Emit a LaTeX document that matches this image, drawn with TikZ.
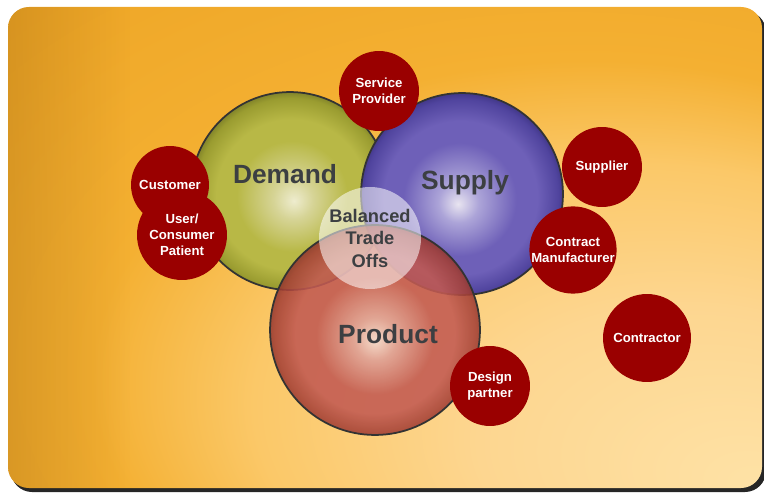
\documentclass[tikz,border=0pt]{standalone}
\usepackage{fontspec}
\setmainfont{Liberation Sans}
\usetikzlibrary{fadings}

\definecolor{bubblered}{HTML}{9A0000}
\definecolor{labelgray}{HTML}{3C3F42}
% background
\definecolor{bgA}{HTML}{FEE2A6}
\definecolor{bgB}{HTML}{FDD690}
\definecolor{bgC}{HTML}{FBC868}
\definecolor{bgD}{HTML}{F4B032}
\definecolor{bgE}{HTML}{EEA626}
\definecolor{bgF}{HTML}{E29A20}
\definecolor{bgG}{HTML}{CE8C1C}
\definecolor{bgedge}{HTML}{A06810}
% spheres
\definecolor{demandA}{HTML}{EEECCE}
\definecolor{demandB}{HTML}{D6D496}
\definecolor{demandC}{HTML}{B8B846}
\definecolor{demandD}{HTML}{9A9C30}
\definecolor{demandE}{HTML}{5E6020}
\definecolor{supplyA}{HTML}{E8E4F0}
\definecolor{supplyB}{HTML}{ACA4D8}
\definecolor{supplyC}{HTML}{6E60B8}
\definecolor{supplyD}{HTML}{50449E}
\definecolor{supplyE}{HTML}{2C2468}
\definecolor{productA}{HTML}{F4DCD4}
\definecolor{productB}{HTML}{DEA098}
\definecolor{productC}{HTML}{C25A52}
\definecolor{productD}{HTML}{A44036}
\definecolor{productE}{HTML}{702822}

\pgfdeclareradialshading{bgshade}{\pgfpoint{25bp}{-25bp}}{color(0bp)=(bgA); color(14bp)=(bgB); color(25bp)=(bgC); color(33bp)=(bgD); color(48bp)=(bgE); color(60bp)=(bgF); color(72bp)=(bgG)}
\pgfdeclareradialshading{demandball}{\pgfpoint{1bp}{-2.5bp}}{color(0bp)=(demandA); color(5bp)=(demandB); color(14bp)=(demandC); color(19bp)=(demandC); color(24bp)=(demandD); color(27.5bp)=(demandE); color(30bp)=(demandE)}
\pgfdeclareradialshading{supplyball}{\pgfpoint{-1bp}{-2.5bp}}{color(0bp)=(supplyA); color(5bp)=(supplyB); color(14bp)=(supplyC); color(19bp)=(supplyC); color(24bp)=(supplyD); color(27.5bp)=(supplyE); color(30bp)=(supplyE)}
\pgfdeclareradialshading{productball}{\pgfpoint{0bp}{-2.5bp}}{color(0bp)=(productA); color(5bp)=(productB); color(14bp)=(productC); color(19bp)=(productC); color(24bp)=(productD); color(27.5bp)=(productE); color(30bp)=(productE)}

\tikzfading[name=leftshade, left color=transparent!70, right color=transparent!100]

\begin{document}
\begin{tikzpicture}[x=0.02cm, y=-0.02cm,
    ball/.style={circle, inner sep=0pt, minimum size=#1*0.04cm, draw=black!80, line width=1pt, shade},
    bubble/.style={circle, inner sep=0pt, minimum size=#1*0.04cm, fill=bubblered, text=white,
        font=\bfseries\fontsize{7.5}{9.2}\selectfont, align=center},
    biglabel/.style={text=labelgray, font=\bfseries\fontsize{15}{18}\selectfont}]
    \useasboundingbox (0,0) rectangle (764,493);

    % Background
    \fill[black!85, rounded corners=0.42cm] (11,11) rectangle (766,492);
    \shade[shading=bgshade, rounded corners=0.42cm] (8,7) rectangle (762,488);
    \begin{scope}
        \clip[rounded corners=0.42cm] (8,7) rectangle (762,488);
        \fill[bgedge, path fading=leftshade] (8,7) rectangle (130,488);
    \end{scope}

    % Spheres
    \node[ball=99, shading=demandball] (demand) at (290,191) {};
    \node[ball=101, shading=supplyball] (supply) at (462,194) {};
    \node[ball=105, shading=productball, fill opacity=0.88] (product) at (375,330) {};

    \node[biglabel] (demandtext) at (285,174) {Demand};
    \node[biglabel] (supplytext) at (465,183) {Supply};
    \node[biglabel] (producttext) at (388,334) {Product};

    % Centre
    \node[circle, inner sep=0pt, minimum size=102*0.02cm, fill=white, fill opacity=0.55,
        text opacity=1, text=labelgray, font=\bfseries\fontsize{10.4}{12.8}\selectfont,
        align=center] (balance) at (370,238) {Balanced\\Trade\\Offs};

    % Partners
    \node[bubble=40] (service) at (379,91) {Service\\Provider};
    \node[bubble=39] (customer) at (170,185) {Customer};
    \node[bubble=45] (user) at (182,235) {User/\\Consumer\\Patient};
    \node[bubble=40] (supplier) at (602,167) {Supplier};
    \node[bubble=43] (contractmfr) at (573,250) {Contract\\Manufacturer};
    \node[bubble=44] (contractor) at (647,338) {Contractor};
    \node[bubble=40] (design) at (490,386) {Design\\partner};
\end{tikzpicture}
\end{document}
